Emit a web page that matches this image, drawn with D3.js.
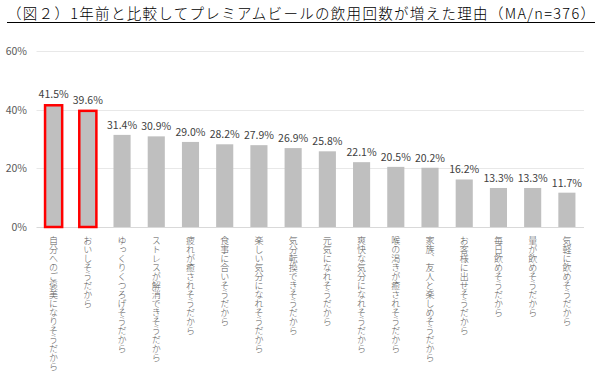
<!DOCTYPE html>
<html><head><meta charset="utf-8">
<script src="https://cdn.jsdelivr.net/npm/d3@7"></script>
<style>
html,body{margin:0;padding:0;background:#fff;}
svg{display:block;font-family:"Noto Sans CJK JP","Noto Sans",sans-serif;}
</style></head>
<body><svg id="c" width="607" height="375"></svg>
<script>
const titleText = "（図２）1年前と比較してプレミアムビールの飲用回数が増えた理由（MA/n=376）";
const categories = ["自分へのご褒美になりそうだから","おいしそうだから","ゆっくりくつろげそうだから","ストレスが解消できそうだから","疲れが癒されそうだから","食事に合いそうだから","楽しい気分になれそうだから","気分転換できそうだから","元気になれそうだから","爽快な気分になれそうだから","喉の渇きが癒されそうだから","家族、友人と楽しめそうだから","お客様に出せそうだから","毎日飲めそうだから","量が飲めそうだから","気軽に飲めそうだから"];
const values = [41.5,39.6,31.4,30.9,29.0,28.2,27.9,26.9,25.8,22.1,20.5,20.2,16.2,13.3,13.3,11.7];
const highlighted = [true,true,false,false,false,false,false,false,false,false,false,false,false,false,false,false];
const yTicks = [0,20,40,60];

(function(){
const svg = d3.select("#c");
const pl = 36.5, pr = 584, pt = 51, pb = 227;
const x = d3.scaleBand().domain(categories).range([pl, pr]).paddingInner(0.5).paddingOuter(0.25);
const y = d3.scaleLinear().domain([0,60]).range([pb, pt]);

// title
svg.append("text").attr("x",7).attr("y",19).attr("font-size",14.5).attr("fill","#000")
  .attr("font-weight",300)
  .attr("textLength",588).attr("lengthAdjust","spacing").text(titleText);
svg.append("line").attr("x1",7).attr("x2",595).attr("y1",22.5).attr("y2",22.5).attr("stroke","#000").attr("stroke-width",1);

// gridlines
svg.append("g").selectAll("line").data(yTicks).join("line")
  .attr("x1",pl).attr("x2",pr)
  .attr("y1",d=>Math.round(y(d))+0.5).attr("y2",d=>Math.round(y(d))+0.5)
  .attr("stroke",d=>d===0?"#d9d9d9":"#e8e8e8").attr("stroke-width",1);

// y labels
svg.append("g").selectAll("text").data(yTicks).join("text")
  .attr("x",27).attr("y",d=>y(d)+4).attr("text-anchor","end")
  .attr("font-size",10.5).attr("fill","#595959").text(d=>d+"%");

// bars
const bw = x.bandwidth();
svg.append("g").selectAll("rect").data(categories).join("rect")
  .attr("x",d=>x(d)).attr("width",bw)
  .attr("y",(d,i)=>y(values[i])).attr("height",(d,i)=>y(0)-y(values[i]))
  .attr("fill","#bfbfbf")
  .attr("stroke",(d,i)=>highlighted[i]?"#ff0000":"none")
  .attr("stroke-width",2.5);

// value labels
svg.append("g").selectAll("text").data(categories).join("text")
  .attr("x",d=>x(d)+bw/2).attr("y",(d,i)=>y(values[i])-(highlighted[i]?7:6))
  .attr("text-anchor","middle").attr("font-size",10.5).attr("fill","#404040")
  .text((d,i)=>values[i].toFixed(1)+"%");

// x labels vertical
svg.append("g").selectAll("text").data(categories).join("text")
  .attr("x",d=>x(d)+bw/2).attr("y",236)
  .attr("font-size",9).attr("fill","#595959").attr("font-weight",300)
  .style("writing-mode","vertical-rl").style("text-orientation","upright")
  .text(d=>d);
})();
</script></body></html>
